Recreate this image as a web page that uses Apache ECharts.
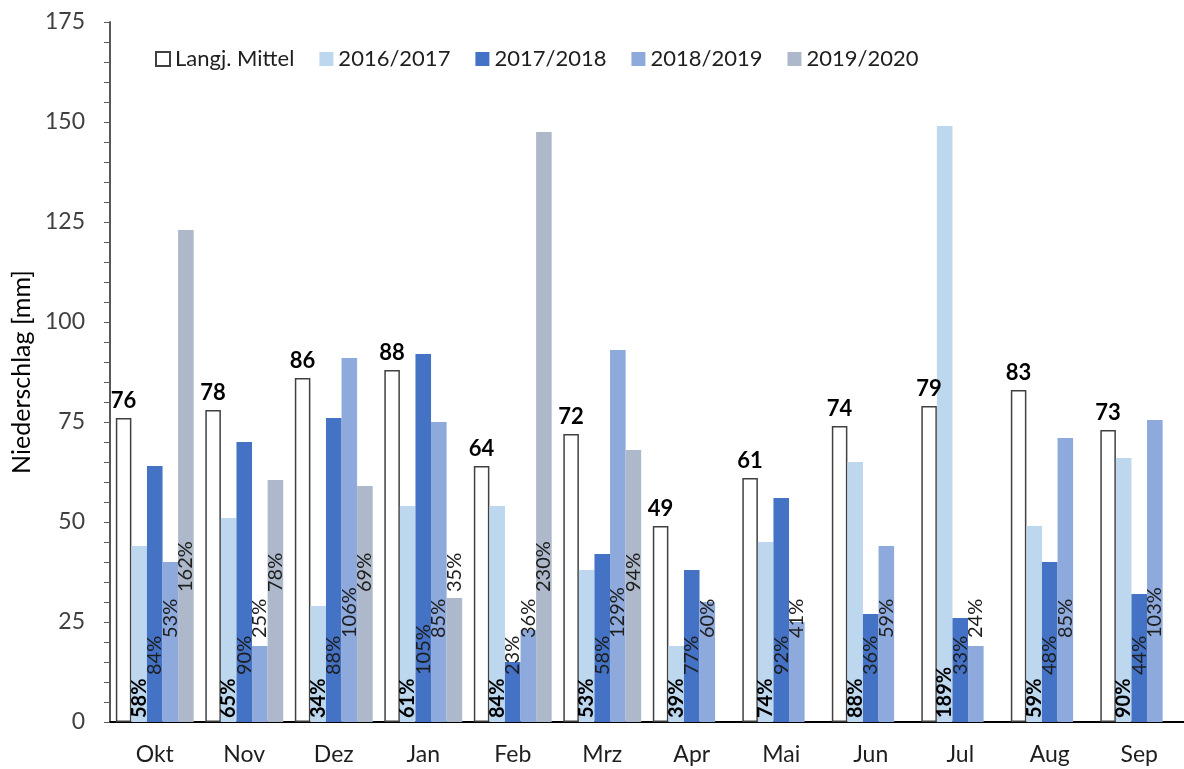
<!DOCTYPE html>
<html>
<head>
<meta charset="utf-8">
<title>Niederschlag</title>
<script src="https://cdn.jsdelivr.net/npm/echarts@6/dist/echarts.min.js"></script>
<style>
  html, body { margin: 0; padding: 0; background: #fff; }
  #chart { width: 1184px; height: 769px; }
</style>
</head>
<body>
<div id="chart"></div>
<script>
// Monate (hydrologisches Jahr)
const months = ['Okt', 'Nov', 'Dez', 'Jan', 'Feb', 'Mrz', 'Apr', 'Mai', 'Jun', 'Jul', 'Aug', 'Sep']
const seriesNames = ['Langj. Mittel', '2016/2017', '2017/2018', '2018/2019', '2019/2020']

// Niederschlag [mm]
const mittel = [76, 78, 86, 88, 64, 72, 49, 61, 74, 79, 83, 73]
const year1617 = [44, 51, 29, 54, 54, 38, 19, 45, 65, 149, 49, 66]
const year1718 = [64, 70, 76, 92, 15, 42, 38, 56, 27, 26, 40, 32]
const year1819 = [40, 19, 91, 75, 23, 93, 30, 25, 44, 19, 71, 75.5]
const year1920 = [123, 60.5, 59, 31, 147.5, 68, null, null, null, null, null, null]

// Prozent vom langj. Mittel (Beschriftung)
const pct1617 = [58, 65, 34, 61, 84, 53, 39, 74, 88, 189, 59, 90]
const pct1718 = [84, 90, 88, 105, 23, 58, 77, 92, 36, 33, 48, 44]
const pct1819 = [53, 25, 106, 85, 36, 129, 60, 41, 59, 24, 85, 103]
const pct1920 = [162, 78, 69, 35, 230, 94, null, null, null, null, null, null]

const yTicks = { min: 0, max: 175, interval: 25 }

const fontFamily = 'Lato, "Noto Sans", sans-serif'

// gedrehte Prozent-Beschriftung, feste Hoehe ueber der Achse
function pctLabel(pct, dist, bold) {
  return {
    show: true,
    position: 'insideBottom',
    rotate: 90,
    align: 'left',
    verticalAlign: 'middle',
    distance: dist,
    fontFamily: fontFamily,
    fontSize: 20,
    fontWeight: bold ? 'bold' : 'normal',
    color: bold ? '#000' : '#1e1e1e',
    formatter: p => pct[p.dataIndex] == null ? '' : pct[p.dataIndex] + '%'
  }
}

const chart = echarts.init(document.getElementById('chart'))

chart.setOption({
  animation: false,
  backgroundColor: '#fff',
  textStyle: { fontFamily: fontFamily },
  grid: { left: 110, right: 0, top: 22, bottom: 47 },
  legend: {
    data: seriesNames,
    left: 150,
    top: 43,
    itemWidth: 14,
    itemHeight: 14,
    itemGap: 25,
    icon: 'rect',
    textStyle: { fontSize: 22, color: '#1e1e1e', fontFamily: fontFamily }
  },
  xAxis: {
    type: 'category',
    data: months,
    axisLine: { lineStyle: { color: '#000', width: 2 } },
    axisTick: { show: false },
    axisLabel: { fontSize: 23, color: '#1e1e1e', margin: 21 }
  },
  yAxis: {
    type: 'value',
    min: yTicks.min,
    max: yTicks.max,
    interval: yTicks.interval,
    name: 'Niederschlag [mm]',
    nameLocation: 'middle',
    nameGap: 75,
    nameTextStyle: { fontSize: 25, color: '#000' },
    axisLine: { show: true, lineStyle: { color: '#595959', width: 2 } },
    axisTick: { show: true, length: 6, lineStyle: { color: '#595959' } },
    minorTick: { show: true, splitNumber: 5, length: 6, lineStyle: { color: '#595959' } },
    splitLine: { show: false },
    axisLabel: { fontSize: 23, color: '#404040', margin: 25 }
  },
  series: [
    {
      name: seriesNames[0],
      type: 'bar',
      data: mittel,
      barGap: '0%',
      barCategoryGap: '13%',
      itemStyle: { color: '#fff', borderColor: '#404040', borderWidth: 1.5 },
      label: {
        show: true,
        position: 'top',
        distance: 6,
        fontSize: 22,
        fontWeight: 'bold',
        color: '#000'
      }
    },
    {
      name: seriesNames[1],
      type: 'bar',
      data: year1617,
      itemStyle: { color: '#BDD7EE' },
      label: pctLabel(pct1617, 4, true)
    },
    {
      name: seriesNames[2],
      type: 'bar',
      data: year1718,
      itemStyle: { color: '#4472C4' },
      label: pctLabel(pct1718, 47, false)
    },
    {
      name: seriesNames[3],
      type: 'bar',
      data: year1819,
      itemStyle: { color: '#8EA9DB' },
      label: pctLabel(pct1819, 84, false)
    },
    {
      name: seriesNames[4],
      type: 'bar',
      data: year1920,
      itemStyle: { color: '#ADB9CA' },
      label: pctLabel(pct1920, 130, false)
    }
  ]
})
</script>
</body>
</html>
